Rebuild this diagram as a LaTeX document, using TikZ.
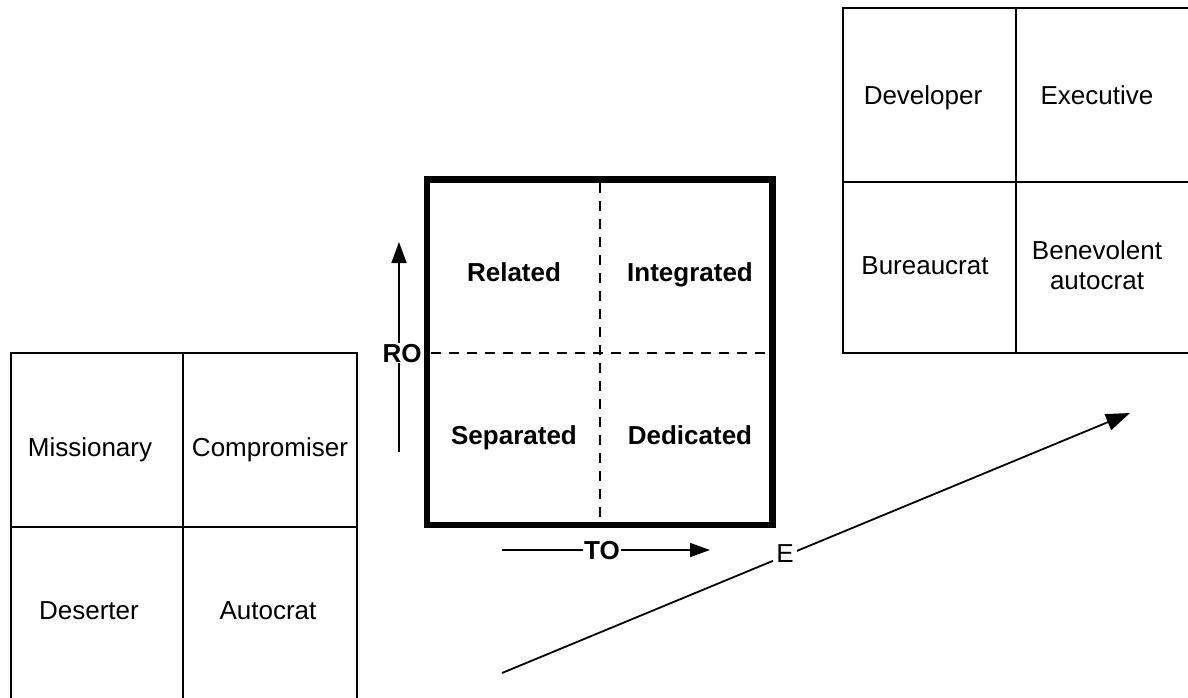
\documentclass[tikz,border=0pt]{standalone}
\usepackage{fontspec}
\setmainfont{Liberation Sans}
\usetikzlibrary{arrows.meta}
\begin{document}
\begin{tikzpicture}[x=1pt,y=-1pt,
  grid/.style={line width=1.6pt},
  lbl/.style={font=\fontsize{26}{30}\selectfont, align=center, inner sep=1pt, text height=18.7pt, text depth=0pt},
  mlbl/.style={font=\fontsize{26}{30}\selectfont, align=center, inner sep=1pt},
  qlbl/.style={font=\fontsize{26}{30}\selectfont\bfseries, inner sep=1pt, text height=18.7pt, text depth=0pt},
  axisline/.style={line width=1.6pt, -{Triangle[length=21pt,width=15pt]}},
  eline/.style={line width=1.8pt, -{Triangle[length=24pt,width=17pt]}},
  quadline/.style={line width=1.6pt, dash pattern=on 10pt off 8pt},
]
\useasboundingbox (0,0) rectangle (1188,698);

% left grid
\draw[grid] (11,700) -- (11,353) -- (357,353) -- (357,700);
\draw[grid] (183,353) -- (183,700);
\draw[grid] (11,527) -- (357,527);
\node[lbl] (mis) at (90,447) {Missionary};
\node[lbl] (com) at (270,447) {Compromiser};
\node[lbl] (des) at (89,610) {Deserter};
\node[lbl] (aut) at (268,610) {Autocrat};

% right grid
\draw[grid] (1190,8) -- (843,8) -- (843,353) -- (1190,353);
\draw[grid] (1016,8) -- (1016,353);
\draw[grid] (843,182) -- (1190,182);
\node[lbl] (dev) at (923,95) {Developer};
\node[lbl] (exe) at (1097,95) {Executive};
\node[lbl] (bur) at (925,265) {Bureaucrat};
\node[mlbl] (ben) at (1097,265) {Benevolent\\autocrat};

% central box
\draw[quadline] (600,183) -- (600,521);
\draw[quadline] (431,353) -- (769,353);
\draw[line width=6.5pt] (427,179.5) rectangle (772.5,525);
\node[qlbl] (rel) at (514,272) {Related};
\node[qlbl] (int) at (690,272) {Integrated};
\node[qlbl] (sep) at (514,435) {Separated};
\node[qlbl] (ded) at (690,435) {Dedicated};

% RO axis
\coordinate (ro0) at (399,452);
\coordinate (ro1) at (399,242);
\draw[axisline] (ro0) -- (ro1);
\node[qlbl, fill=white] (RO) at (402,353) {RO};

% TO axis
\coordinate (to0) at (502,550);
\coordinate (to1) at (710,550);
\draw[axisline, -{Triangle[length=20pt,width=14pt]}] (to0) -- (to1);
\node[qlbl, fill=white] (TO) at (602,550) {TO};

% E axis
\coordinate (e0) at (502,673);
\coordinate (e1) at (1130,413);
\draw[eline] (e0) -- (e1);
\node[lbl, fill=white, inner sep=3pt] (E) at (785,553) {E};
\end{tikzpicture}
\end{document}
